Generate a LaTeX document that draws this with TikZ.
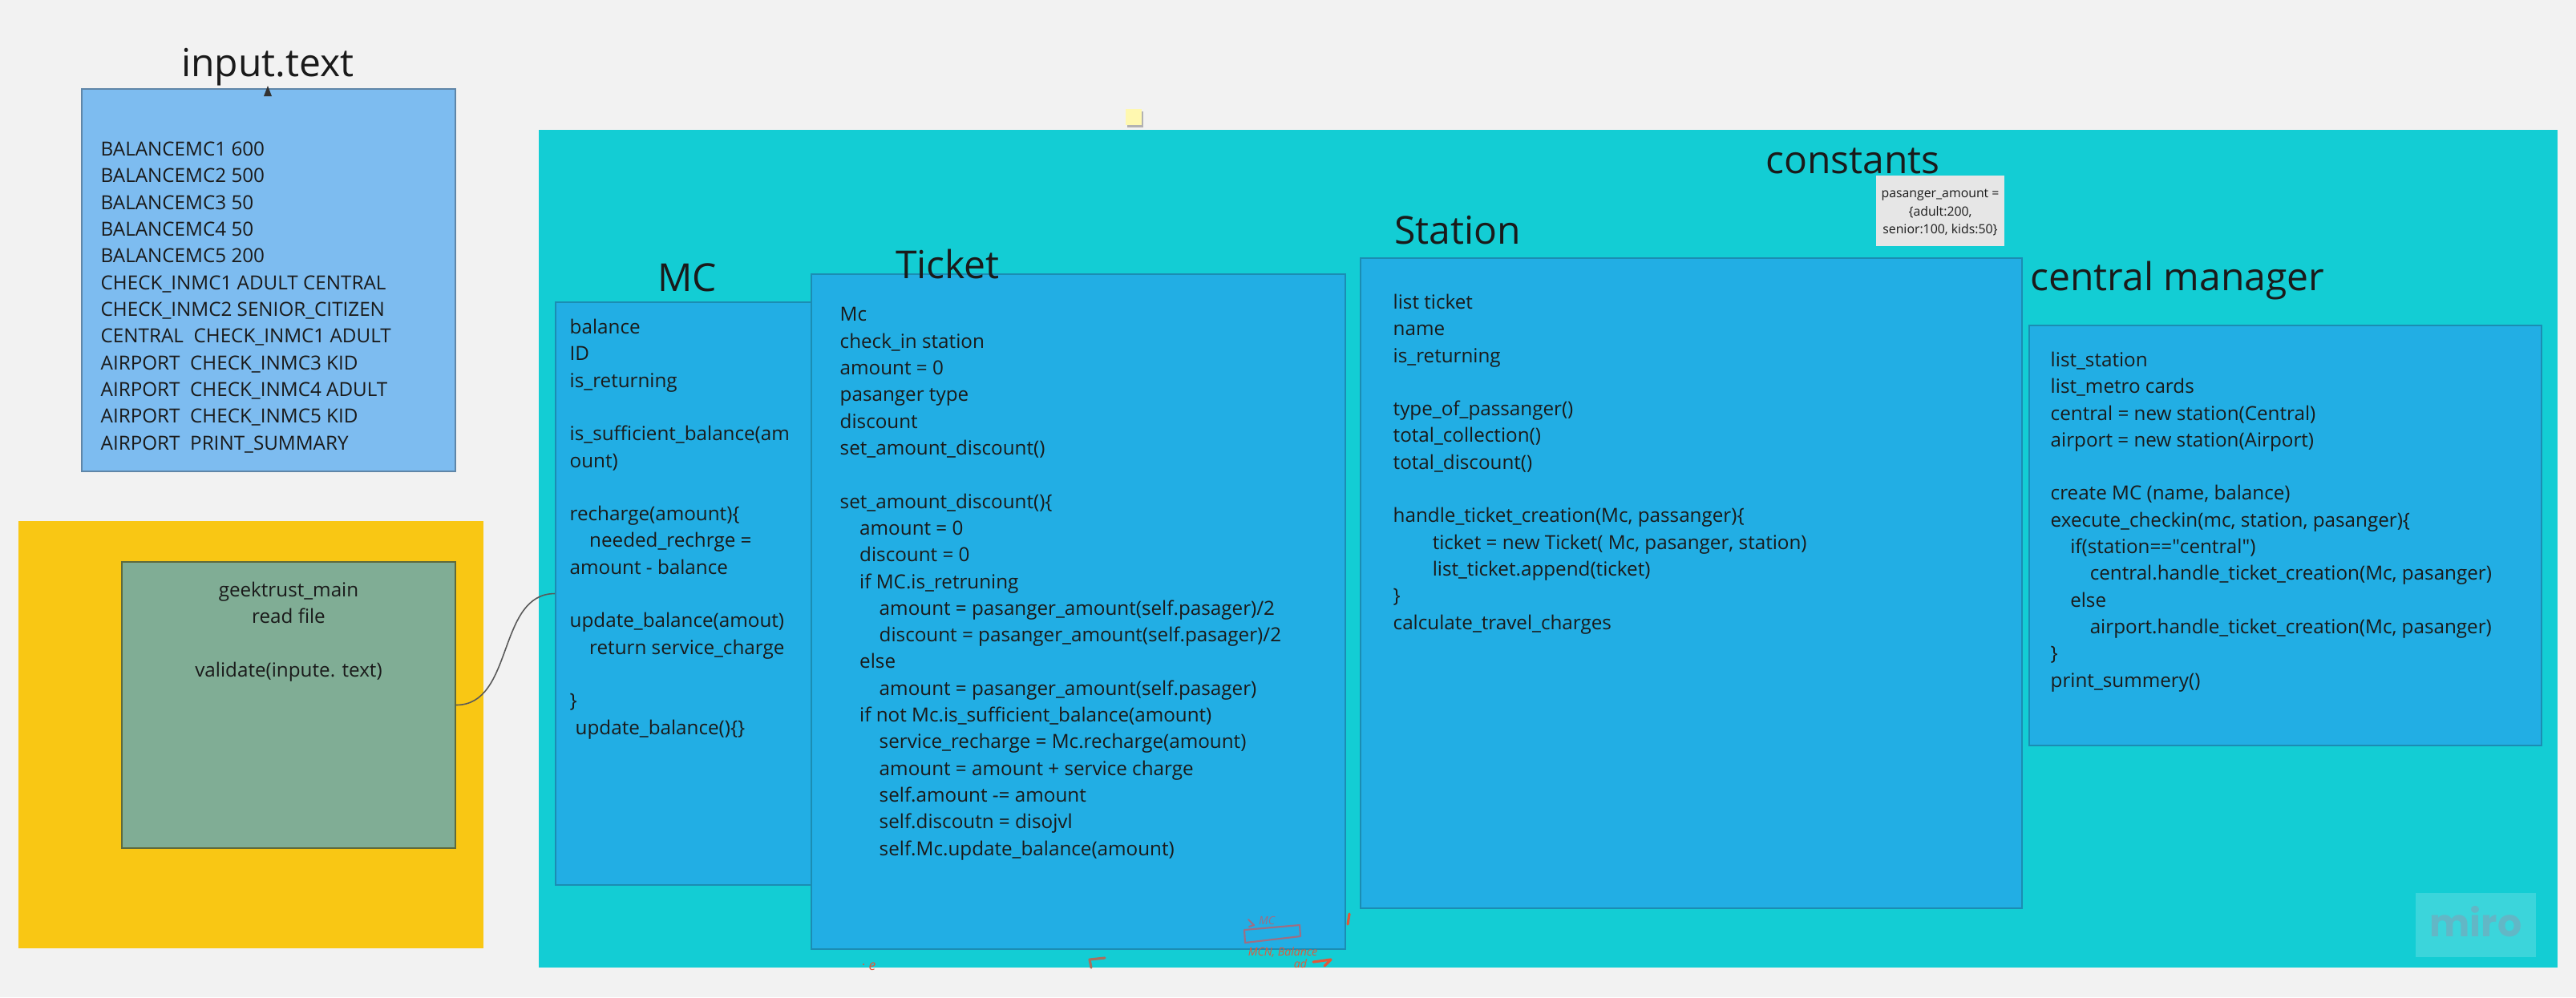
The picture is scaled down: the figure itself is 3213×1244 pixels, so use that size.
\documentclass[tikz,border=0pt]{standalone}
\usepackage{fontspec}
\setmainfont{Open Sans}
\newfontfamily\logofont{Poppins}
\usepackage{xcolor}
\usepackage{tikz}
\usetikzlibrary{positioning,fit,arrows.meta}
\definecolor{boardG}{HTML}{F2F2F2}
\definecolor{tealF}{HTML}{13CDD4}
\definecolor{inputF}{HTML}{7DBCF0}
\definecolor{inputB}{HTML}{5F86A8}
\definecolor{classF}{HTML}{22AEE4}
\definecolor{classB}{HTML}{1B8DB3}
\definecolor{mainY}{HTML}{F9C714}
\definecolor{mainG}{HTML}{80AD95}
\definecolor{mainB}{HTML}{5E6A3C}
\definecolor{noteG}{HTML}{E6E6E6}
\definecolor{stickyY}{HTML}{FFF8B0}
\definecolor{inkD}{HTML}{1A1A1A}
\definecolor{scribR}{HTML}{E2573A}
\definecolor{scribP}{HTML}{9E6E84}
\definecolor{scribB}{HTML}{A8705E}
\definecolor{miroF}{HTML}{3BD5DB}
\definecolor{miroT}{HTML}{62B7C6}
\newcommand\codefont{\fontsize{6.89pt}{9.47pt}\selectfont}
\newcommand\headfont{\fontsize{13.66pt}{16pt}\selectfont}
\newcommand\notefont{\fontsize{4.5pt}{6.26pt}\selectfont}
\newcommand\tb{\hspace*{0.245cm}}

\begin{document}
\begin{tikzpicture}[x=0.01cm, y=-0.01cm,
  every node/.style={text=inkD},
  panel/.style={draw=classB, line width=0.5pt, fill=classF, inner sep=0pt},
  flat/.style={draw=none, inner sep=0pt},
  head/.style={font=\headfont, anchor=base, inner sep=0pt},
  code/.style={font=\codefont, align=left, anchor=base west, inner sep=0pt},
  conn/.style={draw=black!65, line width=0.45pt},
  scrib/.style={line width=0.9pt, line cap=round, line join=round},
  hand/.style={font=\fontsize{4pt}{5pt}\selectfont\itshape, inner sep=0pt}
]
  \useasboundingbox (0,0) rectangle (3213,1244);
  \fill[boardG] (0,0) rectangle (3213,1244);

  \node[flat, fill=tealF, fit={(672,162) (3190,1207)}] (frame) {};
  \node[flat, fill=miroF, fit={(3013,1114) (3163,1194)}] (logo) {};
  \node[anchor=base, inner sep=0pt, text=miroT, font=\logofont\bfseries\fontsize{13.5pt}{15pt}\selectfont]
        at (3088,1168) {miro};
  \fill[black!30] (1406,139) rectangle (1426,159);
  \node[flat, fill=stickyY, fit={(1404,136) (1424,156)}] (sticky) {};

  \node[panel, fit={(693,377) (1012,1104)}]   (mc) {};
  \node[panel, fit={(1012,342) (1678,1184)}]  (ticket) {};
  \node[panel, fit={(1697,322) (2522,1133)}]  (station) {};
  \node[panel, fit={(2531,406) (3170,930)}]   (cm) {};
  \node[flat, fill=noteG, fit={(2340,219) (2500,307)}] (const) {};

  \node[flat, fill=mainY, fit={(23,650) (603,1183)}] (main) {};
  \node[panel, draw=mainB, fill=mainG, fit={(152,701) (568,1058)}] (gm) {};
  \node[panel, draw=inputB, fill=inputF, fit={(102,111) (568,588)}] (inp) {};
  \fill[black!80] (334,107) -- (329,120) -- (339,120) -- cycle;

  \node[head] (inphead)     at (334,95)   {input.text};
  \node[head] (mchead)      at (857,363)  {MC};
  \node[head] (tickethead)  at (1182,347) {Ticket};
  \node[head] (stationhead) at (1818,304) {Station};
  \node[head] (consthead)   at (2311,216) {constants};
  \node[head] (cmhead)      at (2716,362) {central manager};

  \node[code] (inptext) at (125,561) {BALANCEMC1 600\\ BALANCEMC2 500\\ BALANCEMC3 50\\ BALANCEMC4 50\\
    BALANCEMC5 200\\ CHECK\_INMC1 ADULT CENTRAL\\ CHECK\_INMC2 SENIOR\_CITIZEN\\
    CENTRAL~~CHECK\_INMC1 ADULT\\ AIRPORT~~CHECK\_INMC3 KID\\ AIRPORT~~CHECK\_INMC4 ADULT\\
    AIRPORT~~CHECK\_INMC5 KID\\ AIRPORT~~PRINT\_SUMMARY};

  \node[code, align=center, anchor=base] (gmtext) at (360,844)
        {geektrust\_main\\ read file\\ ~\\ validate(inpute. text)};

  \node[code] (mctext) at (710,916) {balance\\ ID\\ is\_returning\\ ~\\
    is\_sufficient\_balance(am\\ ount)\\ ~\\ recharge(amount)\{\\ \tb needed\_rechrge =\\
    amount - balance\\ ~\\ update\_balance(amout)\\ \tb return service\_charge\\ ~\\
    \}\\ \hspace*{0.07cm}update\_balance()\{\}};

  \node[code] (tickettext) at (1047,1067) {Mc\\ check\_in station\\ amount = 0\\ pasanger type\\
    discount\\ set\_amount\_discount()\\ ~\\ set\_amount\_discount()\{\\
    \tb amount = 0\\ \tb discount = 0\\ \tb if MC.is\_retruning\\
    \tb\tb amount = pasanger\_amount(self.pasager)/2\\
    \tb\tb discount = pasanger\_amount(self.pasager)/2\\
    \tb else\\ \tb\tb amount = pasanger\_amount(self.pasager)\\
    \tb if not Mc.is\_sufficient\_balance(amount)\\
    \tb\tb service\_recharge = Mc.recharge(amount)\\
    \tb\tb amount = amount + service charge\\ \tb\tb self.amount -= amount\\
    \tb\tb self.discoutn = disojvl\\ \tb\tb self.Mc.update\_balance(amount)};

  \node[code] (stationtext) at (1737,785) {list ticket\\ name\\ is\_returning\\ ~\\
    type\_of\_passanger()\\ total\_collection()\\ total\_discount()\\ ~\\
    handle\_ticket\_creation(Mc, passanger)\{\\
    \tb\tb ticket = new Ticket( Mc, pasanger, station)\\
    \tb\tb list\_ticket.append(ticket)\\ \}\\ calculate\_travel\_charges};

  \node[code] (cmtext) at (2557,857) {list\_station\\ list\_metro cards\\
    central = new station(Central)\\ airport = new station(Airport)\\ ~\\
    create MC (name, balance)\\ execute\_checkin(mc, station, pasanger)\{\\
    \tb if(station==\textquotedbl central\textquotedbl)\\ \tb\tb central.handle\_ticket\_creation(Mc, pasanger)\\
    \tb else\\ \tb\tb airport.handle\_ticket\_creation(Mc, pasanger)\\ \}\\ print\_summery()};

  \node[font=\notefont, align=center, anchor=base, inner sep=0pt] (consttext) at (2420,291)
        {pasanger\_amount =\\ \{adult:200,\\ senior:100, kids:50\}};

  \draw[conn] (gm.east) to[out=0, in=180] (mc.west);

  \draw[scrib, draw=scribP, line width=0.6pt] (1552,1160) -- (1621,1154) -- (1622,1168) -- (1553,1176) -- cycle;
  \draw[scrib, draw=scribP, line width=0.6pt] (1557,1147) -- (1564,1154) -- (1558,1156);
  \node[hand, text=scribP] (mcnote) at (1580,1148) {MC};
  \node[hand, text=scribR] (balnote) at (1600,1188) {MCN, Balance};
  \node[hand, text=scribR] (adnote) at (1622,1202) {ad};
  \draw[scrib, draw=scribR] (1638,1200) -- (1660,1197) -- (1652,1205);
  \draw[scrib, draw=scribR] (1683,1140) -- (1681,1153);
  \node[hand, text=scribR, font=\fontsize{5pt}{6pt}\selectfont\itshape] (enote) at (1088,1206) {e};
  \fill[scribR] (1077,1203) circle (1.2);
  \draw[scrib, draw=scribB] (1361,1207) -- (1359,1197) -- (1378,1195);
\end{tikzpicture}
\end{document}
